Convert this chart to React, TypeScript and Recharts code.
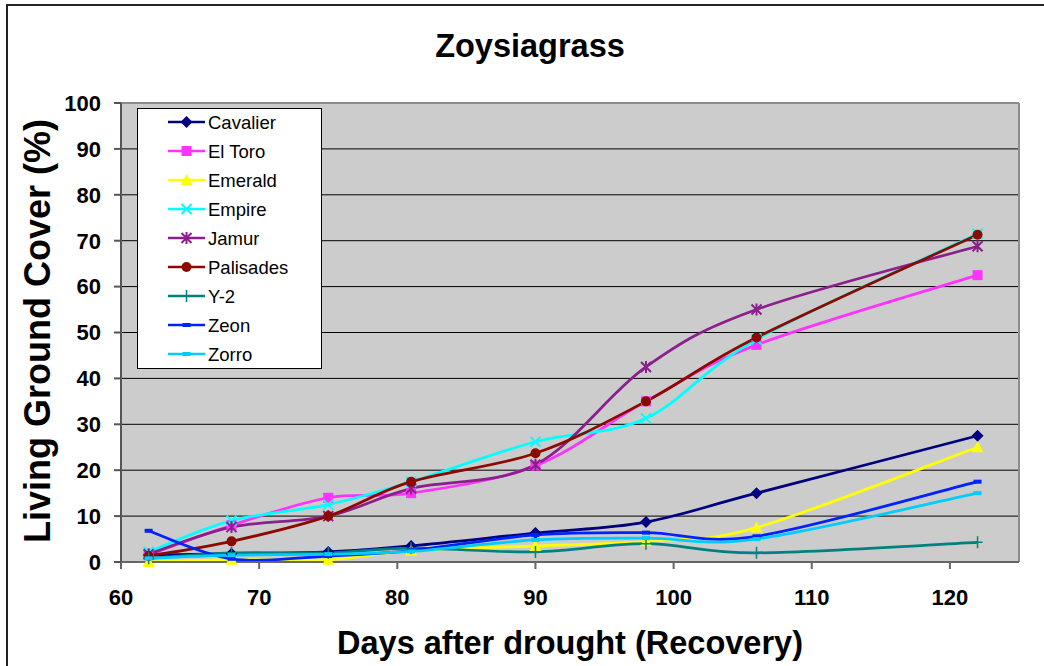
import React from "react";
import {
  LineChart,
  Line,
  XAxis,
  YAxis,
  CartesianGrid,
  Legend,
  ReferenceLine,
} from "recharts";

const days = [62, 68, 75, 81, 90, 98, 106, 122];
const cavalier = [1.5, 1.8, 2.2, 3.5, 6.3, 8.7, 15, 27.5];
const elToro = [1.5, 8, 14, 15, 21, 35, 47.3, 62.5];
const emerald = [0, 0.5, 0.5, 2.5, 3.5, 4.5, 7.5, 25];
const empire = [2.2, 9, 12.5, 17.5, 26.2, 31.3, 48.5, 71.5];
const jamur = [1.7, 7.6, 10, 16, 21.2, 42.5, 55, 68.8];
const palisades = [1.3, 4.5, 10, 17.5, 23.7, 35, 48.9, 71.3];
const y2 = [0.8, 2, 2, 3, 2.2, 4, 2, 4.3];
const zeon = [6.8, 0.7, 1.3, 2.5, 5.9, 6.4, 5.6, 17.5];
const zorro = [0.8, 1.5, 1.7, 2.3, 4.8, 5.2, 5, 15];

const xTicks = [60, 70, 80, 90, 100, 110, 120];
const yTicks = [0, 10, 20, 30, 40, 50, 60, 70, 80, 90, 100];

const seriesNames = ["Cavalier", "El Toro", "Emerald", "Empire", "Jamur", "Palisades", "Y-2", "Zeon", "Zorro"];
const seriesValues = [cavalier, elToro, emerald, empire, jamur, palisades, y2, zeon, zorro];
const seriesColors = ["#000080", "#FF33FF", "#FFFF00", "#00FFFF", "#8B1F8B", "#8B0A00", "#008080", "#0022FF", "#00CCFF"];
const seriesMarkers = ["diamond", "square", "triangle", "x", "star", "circle", "plus", "dash", "dash"];

const data = days.map((d, i) => {
  const row: any = { day: d };
  seriesNames.forEach((n, k) => {
    row[n] = seriesValues[k][i];
  });
  return row;
});

const FONT = '"Liberation Sans", Arial, Helvetica, sans-serif';

// Excel-like smoothing (Catmull-Rom / cardinal tension 0)
function excelCurve(context: any) {
  let xs: number[] = [];
  let ys: number[] = [];
  return {
    areaStart() {},
    areaEnd() {},
    lineStart() {
      xs = [];
      ys = [];
    },
    point(x: number, y: number) {
      xs.push(+x);
      ys.push(+y);
    },
    lineEnd() {
      const n = xs.length;
      if (!n) return;
      context.moveTo(xs[0], ys[0]);
      if (n === 1) return;
      for (let i = 0; i < n - 1; i++) {
        const p0 = i > 0 ? i - 1 : i;
        const p3 = i + 2 < n ? i + 2 : i + 1;
        const c1x = xs[i] + (xs[i + 1] - xs[p0]) / 6;
        const c1y = ys[i] + (ys[i + 1] - ys[p0]) / 6;
        const c2x = xs[i + 1] - (xs[p3] - xs[i]) / 6;
        const c2y = ys[i + 1] - (ys[p3] - ys[i]) / 6;
        context.bezierCurveTo(c1x, c1y, c2x, c2y, xs[i + 1], ys[i + 1]);
      }
    },
  };
}

function markerShape(kind: string, cx: number, cy: number, color: string, k: any) {
  switch (kind) {
    case "diamond":
      return <path key={k} d={`M${cx},${cy - 6}L${cx + 6},${cy}L${cx},${cy + 6}L${cx - 6},${cy}Z`} fill={color} />;
    case "square":
      return <rect key={k} x={cx - 5} y={cy - 5} width={10} height={10} fill={color} />;
    case "triangle":
      return <path key={k} d={`M${cx},${cy - 6}L${cx + 6},${cy + 5}L${cx - 6},${cy + 5}Z`} fill={color} />;
    case "x":
      return (
        <path key={k} d={`M${cx - 5},${cy - 5}L${cx + 5},${cy + 5}M${cx - 5},${cy + 5}L${cx + 5},${cy - 5}`} stroke={color} strokeWidth={2} fill="none" />
      );
    case "star":
      return (
        <path
          key={k}
          d={`M${cx - 5},${cy - 5}L${cx + 5},${cy + 5}M${cx - 5},${cy + 5}L${cx + 5},${cy - 5}M${cx},${cy - 6}L${cx},${cy + 6}`}
          stroke={color}
          strokeWidth={2}
          fill="none"
        />
      );
    case "circle":
      return <circle key={k} cx={cx} cy={cy} r={5} fill={color} />;
    case "plus":
      return (
        <path key={k} d={`M${cx - 5},${cy}L${cx + 5},${cy}M${cx},${cy - 6}L${cx},${cy + 6}`} stroke={color} strokeWidth={1.5} fill="none" />
      );
    case "dash":
    default:
      return <rect key={k} x={cx - 4} y={cy - 2} width={8} height={4} fill={color} />;
  }
}

const renderLegend = () => (
  <div
    style={{
      width: 185,
      height: 261,
      boxSizing: "border-box",
      border: "1px solid #000",
      background: "#fff",
    }}
  >
    <svg width={183} height={259} style={{ display: "block" }}>
      {seriesNames.map((n, i) => {
        const cy = 13 + 29 * i;
        return (
          <g key={n}>
            <line x1={30} x2={67} y1={cy} y2={cy} stroke={seriesColors[i]} strokeWidth={2.5} />
            {markerShape(seriesMarkers[i], 48.5, cy, seriesColors[i], "m")}
            <text x={70} y={cy + 6.5} fontFamily={FONT} fontSize={18.5} fill="#000">
              {n}
            </text>
          </g>
        );
      })}
    </svg>
  </div>
);

export default function App() {
  return (
    <div style={{ position: "absolute", left: 0, top: 0, width: 1044, height: 666, overflow: "hidden", background: "#fff" }}>
      <div
        style={{
          position: "absolute",
          left: 6,
          top: 4,
          width: 1200,
          height: 800,
          border: "2px solid #222",
        }}
      />
      <div style={{ position: "absolute", left: 0, top: 0 }}>
        <LineChart
          width={1044}
          height={666}
          data={data}
          margin={{ top: 103, right: 25, bottom: 64, left: 51 }}
        >
          <CartesianGrid vertical={false} stroke="#000" strokeWidth={1} fill="#CCCCCC" fillOpacity={1} />
          <XAxis
            dataKey="day"
            type="number"
            domain={[60, 125]}
            ticks={xTicks}
            allowDataOverflow
            height={40}
            tickSize={7}
            tickMargin={20}
            stroke="#666"
            strokeWidth={2}
            tick={{ fill: "#000", fontFamily: FONT, fontSize: 22, fontWeight: "bold" }}
          />
          <YAxis
            type="number"
            domain={[0, 100]}
            ticks={yTicks}
            width={70}
            tickSize={7}
            tickMargin={13}
            stroke="#555"
            strokeWidth={2}
            tick={{ fill: "#000", fontFamily: FONT, fontSize: 22, fontWeight: "bold" }}
          />
          <ReferenceLine y={100} stroke="#8c8c8c" strokeWidth={2} />
          <ReferenceLine x={125} stroke="#8c8c8c" strokeWidth={2} />
          <Legend
            layout="vertical"
            align="center"
            verticalAlign="middle"
            wrapperStyle={{ left: 137, top: 108, width: 185, height: 261 }}
            content={renderLegend}
          />
          {seriesNames.map((n, i) => (
            <Line
              key={n}
              dataKey={n}
              name={n}
              type={excelCurve as any}
              stroke={seriesColors[i]}
              strokeWidth={2.75}
              isAnimationActive={false}
              activeDot={false}
              dot={(p: any) => markerShape(seriesMarkers[i], p.cx, p.cy, seriesColors[i], `${n}-${p.index}`)}
            />
          ))}
          <text x={530} y={57} textAnchor="middle" fontFamily={FONT} fontSize={32.5} fontWeight="bold" fill="#000">
            Zoysiagrass
          </text>
          <text x={570} y={654} textAnchor="middle" fontFamily={FONT} fontSize={32.5} fontWeight="bold" fill="#000">
            Days after drought (Recovery)
          </text>
          <text
            x={0}
            y={0}
            transform="translate(50, 331) rotate(-90)"
            textAnchor="middle"
            fontFamily={FONT}
            fontSize={36}
            fontWeight="bold"
            fill="#000"
          >
            Living Ground Cover (%)
          </text>
        </LineChart>
      </div>
    </div>
  );
}
